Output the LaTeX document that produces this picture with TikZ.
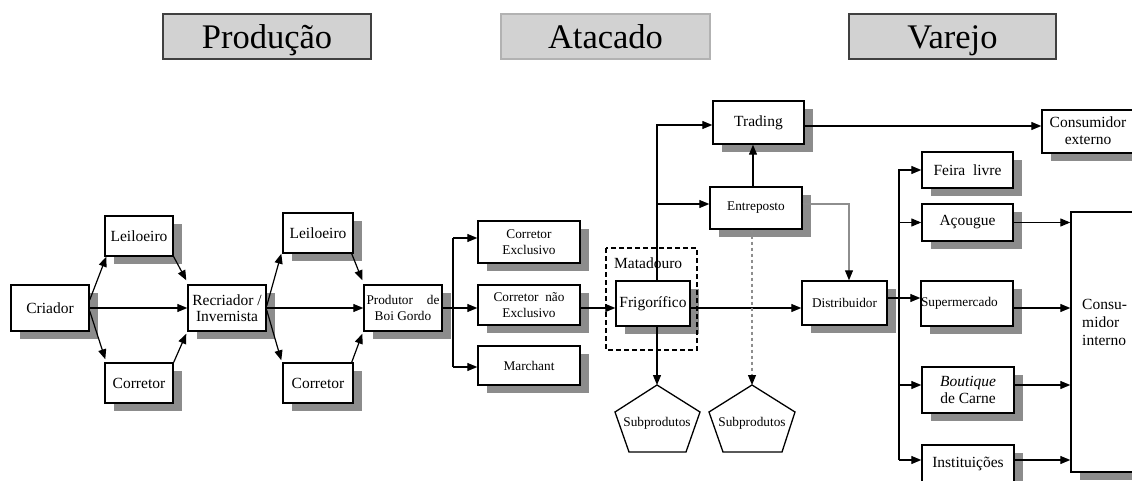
\documentclass[tikz,border=0pt]{standalone}
\usepackage{fontspec}
\setmainfont{Liberation Serif}
\usetikzlibrary{arrows.meta,shadows,calc}

\definecolor{shade}{HTML}{8C8C8C}
\definecolor{hdrfill}{HTML}{D2D2D2}
\definecolor{thinline}{HTML}{8E8E8E}

\newcommand{\txtA}{\fontsize{15.5}{16.5}\selectfont}
\newcommand{\txtB}{\fontsize{13.3}{16}\selectfont}

\begin{document}
\begin{tikzpicture}[x=1pt,y=-1pt,
  box/.style={draw, line width=1.4pt, fill=white, inner sep=0pt, align=center, font=\txtA,
    drop shadow={shadow xshift=9pt, shadow yshift=-8pt, fill=shade, opacity=1, draw=none}},
  sbox/.style={box, font=\txtB},
  hdr/.style={draw=#1, fill=hdrfill, line width=1.2pt, minimum height=45pt, inner sep=0pt,
    text height=25pt, text depth=0pt, font=\fontsize{34.5}{36}\selectfont},
  ln/.style={line width=1.2pt},
  arr/.style={line width=1.2pt, -{Triangle[length=10pt,width=8pt]}},
  greyarr/.style={line width=1.1pt, draw=thinline, -{Triangle[length=10pt,width=8pt,color=black]}},
  pent/.style={draw, line width=1.3pt, fill=white},
  matabox/.style={draw, line width=1.8pt, dash pattern=on 5pt off 3pt},
]
\useasboundingbox (0,0) rectangle (1132,481);
\clip (0,0) rectangle (1132,481);

% stage headers
\node[hdr=black!75, minimum width=208pt] (hprod) at (267,36.5) {Produção};
\node[hdr=black!30, minimum width=209pt] (hatac) at (605.5,36.5) {Atacado};
\node[hdr=black!75, minimum width=207pt] (hvar) at (952.5,36.5) {Varejo};

% production
\node[box, minimum width=78pt, minimum height=46pt] (criador) at (50,308) {Criador};
\node[box, minimum width=68pt, minimum height=40pt] (lei1) at (139,236) {Leiloeiro};
\node[box, minimum width=68pt, minimum height=40pt] (cor1) at (139,383) {Corretor};
\node[box, minimum width=78pt, minimum height=46pt] (recri) at (227,308) {Recriador /\\Invernista};
\node[box, minimum width=70pt, minimum height=40pt] (lei2) at (318,233) {Leiloeiro};
\node[box, minimum width=70pt, minimum height=40pt] (cor2) at (318,383) {Corretor};
\node[sbox, minimum width=78pt, minimum height=46pt] (prod) at (403,308)
  {\makebox[73pt][s]{Produtor de}\\Boi Gordo};

% wholesale
\node[sbox, minimum width=102pt, minimum height=42pt] (corex) at (529,242) {Corretor\\Exclusivo};
\node[sbox, minimum width=102pt, minimum height=40pt] (corne) at (529,305) {Corretor~~não\\Exclusivo};
\node[sbox, minimum width=102pt, minimum height=39pt] (march) at (529,365.5) {Marchant};
\node[box, minimum width=91pt, minimum height=43pt] (trading) at (758.5,122.5) {Trading};
\node[sbox, minimum width=92pt, minimum height=42pt] (entre) at (756,208) {Entreposto};
\node[box, minimum width=74pt, minimum height=45pt] (frig) at (653,303.5) {Frigorífico};
\node[sbox, minimum width=85pt, minimum height=44pt] (dist) at (844.5,303) {Distribuidor};
\node[font=\txtA, anchor=base west, inner sep=0pt] (matalbl) at (614,268) {Matadouro};
\draw[matabox] (606,248) rectangle (697,350);

% by-products
\draw[pent] (657,385) -- (700,412) -- (686,452) -- (629,452) -- (615,412) -- cycle;
\draw[pent] (752,385) -- (795,412) -- (782,452) -- (723,452) -- (709,412) -- cycle;
\coordinate (s1top) at (657,385);
\coordinate (s2top) at (752,385);
\node[font=\txtB, inner sep=0pt] (sub1) at (657,423) {Subprodutos};
\node[font=\txtB, inner sep=0pt] (sub2) at (752,423) {Subprodutos};

% retail
\node[box, minimum width=108pt, minimum height=43pt] (cext) at (1096,131.5) {};
\node[font=\fontsize{15.5}{17}\selectfont, align=center, inner sep=0pt] (cexttxt) at (1088,131) {Consumidor\\externo};
\node[box, minimum width=91pt, minimum height=36pt] (feira) at (967.5,170) {Feira~~livre};
\node[box, minimum width=91pt, minimum height=37pt] (acou) at (967.5,222.5) {Açougue};
\node[sbox, text width=92pt, align=left, minimum height=45pt] (super) at (967,303.5) {Supermercado};
\node[box, minimum width=92pt, minimum height=46pt] (bout) at (968,390) {\textit{Boutique}\\de Carne};
\node[box, minimum width=92pt, minimum height=38pt] (inst) at (968,464) {Instituições};
\node[box, minimum width=79pt, minimum height=260pt] (cint) at (1110.5,342) {};
\node[font=\fontsize{15.5}{18}\selectfont, align=left, anchor=north west, inner sep=0pt] (cinttxt)
  at (1082,299) {Consu-\\midor\\interno};

% production flows
\draw[arr] ([yshift=8pt]criador.east) -- ([xshift=2pt]lei1.south west);
\draw[arr] ([yshift=-3pt]criador.east) -- ([xshift=1pt,yshift=3pt]cor1.north west);
\draw[arr] (criador.east) -- (recri.west);
\draw[arr] (lei1.south east) -- ([xshift=-1pt,yshift=4pt]recri.north west);
\draw[arr] (cor1.north east) -- ([xshift=-1pt,yshift=-2pt]recri.south west);
\draw[arr] ([yshift=2pt]recri.east) -- ([xshift=-1pt]lei2.south west);
\draw[arr] ([yshift=-2pt]recri.east) -- ([xshift=-1pt,yshift=2pt]cor2.north west);
\draw[arr] (recri.east) -- (prod.west);
\draw[arr] ([xshift=-2pt]lei2.south east) -- ([xshift=-1pt,yshift=4pt]prod.north west);
\draw[arr] ([xshift=-2pt]cor2.north east) -- ([xshift=-1pt,yshift=-2pt]prod.south west);

% distribution of cattle to agents
\coordinate (busA) at (453,238);
\coordinate (busB) at (453,367);
\draw[ln] (busA) -- (busB);
\draw[arr] (busA) -- (busA -| corex.west);
\draw[arr] (prod.east) -- (prod.east -| corne.west);
\draw[arr] (busB) -- (busB -| march.west);
\draw[arr] ([yshift=-3pt]corne.east) -- ([yshift=-3pt]corne.east -| frig.west);

% slaughterhouse flows
\coordinate (fv) at (657,281);
\draw[arr] (fv) |- ([yshift=-2.5pt]trading.west);
\draw[arr] (fv |- entre.west) ++(0,-4) -- ([yshift=4pt]entre.west);
\draw[arr] (entre.north -| 753,0) -- (trading.south -| 753,0);
\draw[arr] ([yshift=-4.5pt]frig.east) -- ([yshift=-4.5pt]frig.east -| dist.west);
\draw[arr] (fv |- frig.south) -- (s1top);
\draw[greyarr] ([yshift=4pt]entre.east) -| ([xshift=4.5pt]dist.north);
\draw[greyarr, dashed] (entre.south -| s2top) -- (s2top);
\draw[arr] ([yshift=-3.5pt]trading.east) -- ([yshift=-3.5pt]trading.east -| cext.west);

% retail channels
\coordinate (bb) at (899,460);
\draw[arr] (bb) |- (feira.west);
\draw[arr] (bb |- acou.west) -- (acou.west);
\draw[arr] ([yshift=5pt]dist.east) -- ([yshift=5pt]dist.east -| super.west);
\draw[arr] ([yshift=5pt]bb |- bout.west) -- ([yshift=5pt]bout.west);
\draw[arr] (bb) -- (bb -| inst.west);

% to domestic consumer
\draw[arr] (acou.east) -- (acou.east -| cint.west);
\draw[arr] ([yshift=-4.5pt]super.east) -- ([yshift=-4.5pt]super.east -| cint.west);
\draw[arr] ([yshift=5pt]bout.east) -- ([yshift=5pt]bout.east -| cint.west);
\draw[arr] (bb -| inst.east) -- (bb -| cint.west);
\end{tikzpicture}
\end{document}
